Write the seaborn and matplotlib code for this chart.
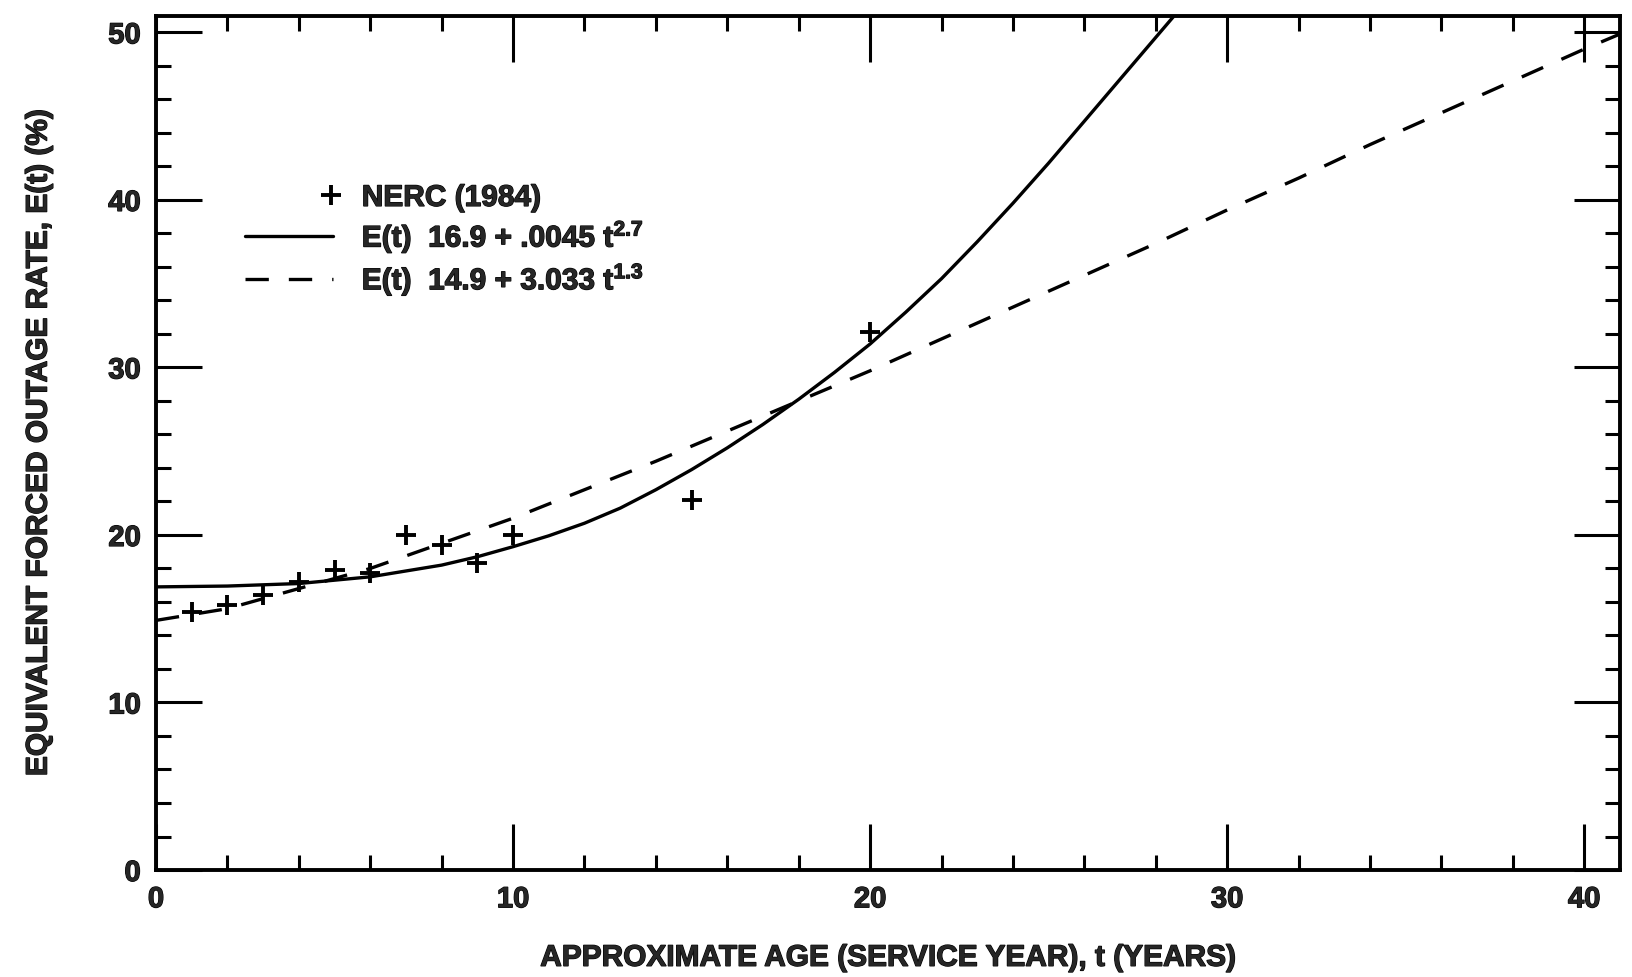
import pandas as pd
import matplotlib
matplotlib.use('Agg')
import matplotlib.pyplot as plt
import matplotlib.patheffects as pe
from matplotlib.legend_handler import HandlerLine2D
from matplotlib.ticker import MultipleLocator
import seaborn as sns

# NERC (1984) observed points
age_obs = [1, 2, 3, 4, 5, 6, 7, 8, 9, 10, 15, 20]
efor_obs = [15.4, 15.8, 16.4, 17.2, 17.9, 17.7, 20.0, 19.4, 18.3, 20.0, 22.1, 32.1]

# solid fitted curve
age_solid = [0, 2, 4, 6, 8, 9, 10, 11, 12, 13, 14, 15, 16, 17, 18, 19, 20,
             21, 22, 23, 24, 25, 26, 27, 28, 28.6]
efor_solid = [16.9, 16.95, 17.1, 17.5, 18.2, 18.7, 19.3, 19.95, 20.7, 21.6, 22.7,
              23.9, 25.2, 26.6, 28.1, 29.7, 31.4, 33.3, 35.3, 37.5, 39.8, 42.2,
              44.7, 47.2, 49.7, 51.2]

# dashed fitted curve
age_dash = [0, 2, 4, 6, 8, 10, 12, 14, 16, 18, 20, 22, 24, 26, 28, 30, 32, 34, 36, 38, 40, 41]
efor_dash = [14.9, 15.6, 16.8, 18.0, 19.5, 21.0, 22.7, 24.4, 26.2, 28.0, 29.8, 31.7,
             33.6, 35.5, 37.4, 39.4, 41.3, 43.3, 45.2, 47.1, 49.0, 49.9]

labels = ['NERC (1984)',
          'E(t)  16.9 + .0045 t$^{2.7}$',
          'E(t)  14.9 + 3.033 t$^{1.3}$']


class RightMarker(HandlerLine2D):
    # single '+' drawn near the right end of the handle, as in the scan
    def get_xdata(self, legend, xdescent, ydescent, width, height, fontsize):
        xs = [-xdescent + width * 0.94, -xdescent + width * 1.0]
        return xs, xs


sns.set_style('ticks')
plt.rcParams.update({
    'font.family': ['Liberation Sans', 'DejaVu Sans'],
    'font.weight': 'bold',
    'mathtext.fontset': 'custom',
    'mathtext.rm': 'Liberation Sans:bold',
    'mathtext.it': 'Liberation Sans:bold',
    'mathtext.bf': 'Liberation Sans:bold',
    'mathtext.default': 'rm',
})
heavy = [pe.withStroke(linewidth=0.9, foreground='black')]

obs = pd.DataFrame({'age': age_obs, 'efor': efor_obs})
solid = pd.DataFrame({'age': age_solid, 'efor': efor_solid})
dash = pd.DataFrame({'age': age_dash, 'efor': efor_dash})

fig = plt.figure(figsize=(16.32, 9.78), dpi=100)
ax = fig.add_axes([0.0956, 0.1094, 0.897, 0.8736])

sns.lineplot(data=solid, x='age', y='efor', ax=ax, color='black', lw=2.4,
             label=labels[1], sort=False)
sns.lineplot(data=dash, x='age', y='efor', ax=ax, color='black', lw=2.4,
             label=labels[2], sort=False)
ax.lines[-1].set_dashes((7, 6))
pts, = ax.plot(obs['age'], obs['efor'], ls='none', marker='+', ms=14, mew=2.8,
               color='black', label=labels[0])

ax.set_xlim(0, 41)
ax.set_ylim(0, 51)
ax.xaxis.set_major_locator(MultipleLocator(10))
ax.xaxis.set_minor_locator(MultipleLocator(2))
ax.yaxis.set_major_locator(MultipleLocator(10))
ax.yaxis.set_minor_locator(MultipleLocator(2))
ax.tick_params(which='both', direction='in', top=True, right=True,
               width=2.2, color='black', labelsize=21, pad=11)
ax.tick_params(which='major', length=33)
ax.tick_params(which='minor', length=11)
for s in ax.spines.values():
    s.set_linewidth(2.8)
    s.set_color('black')
for t in ax.get_xticklabels() + ax.get_yticklabels():
    t.set_path_effects(heavy)

ax.set_xlabel('APPROXIMATE AGE (SERVICE YEAR), t (YEARS)', fontsize=21.5,
              fontweight='bold', labelpad=22, path_effects=heavy)
ax.set_ylabel('EQUIVALENT FORCED OUTAGE RATE, E(t) (%)', fontsize=21.5,
              fontweight='bold', labelpad=40, path_effects=heavy)

handles, labs = ax.get_legend_handles_labels()
order = [labs.index(l) for l in labels]
leg = ax.legend([handles[i] for i in order], [labs[i] for i in order],
                handler_map={pts: RightMarker(numpoints=1)},
                loc='upper left', bbox_to_anchor=(0.061, 0.803), frameon=False,
                borderpad=0, borderaxespad=0, handlelength=2.95, handletextpad=0.95,
                labelspacing=0.25, fontsize=21.5)
for t in leg.get_texts():
    t.set_path_effects(heavy)

fig.savefig('out.png', dpi=100, facecolor='white')
